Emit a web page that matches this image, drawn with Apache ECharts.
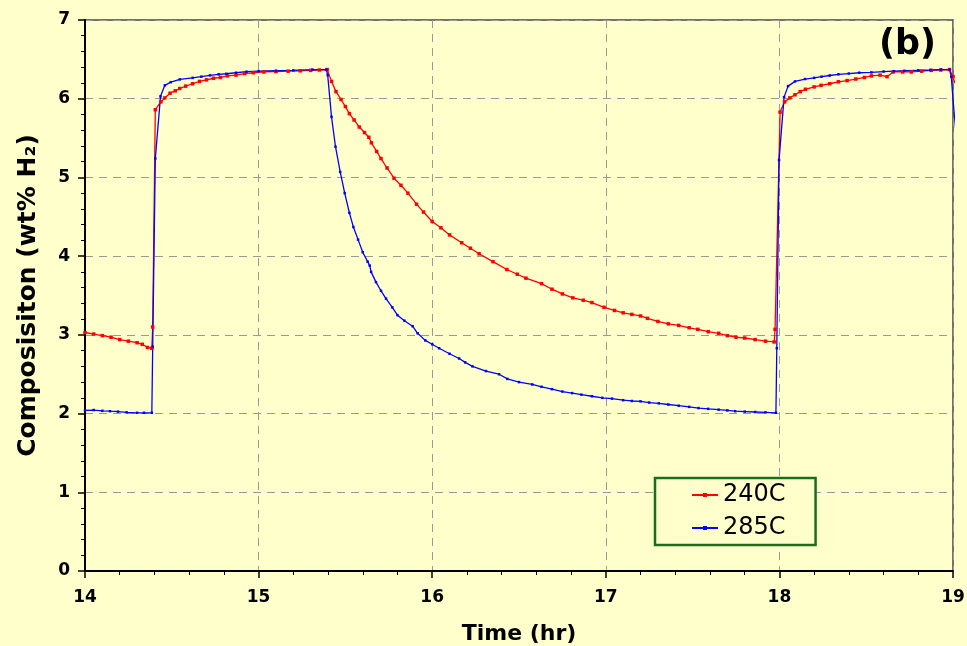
<!DOCTYPE html>
<html>
<head>
<meta charset="utf-8">
<script src="https://cdn.jsdelivr.net/npm/echarts@6/dist/echarts.min.js"></script>
<style>
html,body{margin:0;padding:0;background:#FFFFCC;}
#c{width:967px;height:646px;}
</style>
</head>
<body>
<div id="c"></div>
<script>
// Series 240C: time (hr) and composition (wt% H2)
var t240 = [14.00,14.05,14.10,14.15,14.20,14.25,14.30,14.33,14.36,14.385,14.39,14.405,14.437,14.46,14.49,14.52,14.546,14.58,14.62,14.66,14.70,14.74,14.78,14.82,14.87,14.92,14.97,15.03,15.10,15.17,15.24,15.30,15.35,15.395,
  15.42,15.446,15.475,15.50,15.523,15.55,15.58,15.61,15.635,15.65,15.68,15.705,15.74,15.78,15.82,15.86,15.91,15.95,16.00,16.05,16.10,16.17,16.22,16.27,16.35,16.43,16.49,16.54,16.63,16.69,16.75,16.81,16.87,16.92,16.99,
  17.05,17.10,17.15,17.20,17.24,17.30,17.36,17.42,17.48,17.53,17.59,17.65,17.70,17.75,17.80,17.86,17.92,17.97,17.975,18.004,18.03,18.06,18.09,18.12,18.15,18.20,18.24,18.29,18.34,18.39,18.44,18.49,18.53,18.58,18.62,18.655,18.71,18.76,18.82,18.875,18.93,18.98,19.00,19.01];
var v240 = [3.03,3.01,2.99,2.97,2.94,2.92,2.90,2.88,2.84,2.83,3.10,5.86,5.96,6.01,6.07,6.10,6.13,6.16,6.19,6.22,6.24,6.26,6.27,6.29,6.30,6.32,6.33,6.34,6.345,6.35,6.355,6.36,6.365,6.37,
  6.22,6.09,5.99,5.90,5.81,5.73,5.64,5.57,5.51,5.44,5.33,5.24,5.12,4.99,4.90,4.80,4.66,4.56,4.44,4.36,4.27,4.17,4.10,4.03,3.93,3.83,3.77,3.72,3.65,3.58,3.52,3.47,3.44,3.41,3.35,
  3.31,3.28,3.26,3.24,3.21,3.17,3.14,3.12,3.09,3.07,3.04,3.02,2.99,2.97,2.96,2.94,2.92,2.91,3.07,5.83,5.96,6.01,6.05,6.09,6.12,6.15,6.17,6.19,6.215,6.23,6.25,6.27,6.29,6.30,6.28,6.34,6.34,6.34,6.35,6.36,6.365,6.37,6.28,6.20];

// Series 285C
var t285 = [14.00,14.05,14.10,14.144,14.19,14.24,14.30,14.34,14.385,14.39,14.405,14.435,14.46,14.494,14.546,14.62,14.67,14.72,14.77,14.814,14.87,14.93,15.00,15.10,15.20,15.31,15.39,15.398,
  15.42,15.443,15.47,15.496,15.523,15.546,15.573,15.60,15.628,15.64,15.648,15.676,15.705,15.734,15.77,15.80,15.84,15.887,15.916,15.96,16.00,16.04,16.10,16.155,16.19,16.232,16.31,16.385,16.433,16.50,16.576,16.63,16.69,16.75,16.806,16.86,16.92,16.98,
  17.036,17.10,17.15,17.20,17.25,17.305,17.36,17.42,17.48,17.534,17.59,17.65,17.70,17.745,17.80,17.86,17.92,17.98,17.985,17.998,18.027,18.05,18.09,18.148,18.20,18.243,18.29,18.34,18.40,18.46,18.53,18.60,18.66,18.72,18.80,18.87,18.93,18.98,18.99,19.005,19.02];
var v285 = [2.04,2.045,2.035,2.03,2.025,2.015,2.01,2.01,2.01,2.85,5.24,6.03,6.17,6.21,6.245,6.265,6.28,6.296,6.31,6.317,6.33,6.343,6.35,6.355,6.36,6.37,6.37,6.30,
  5.77,5.39,5.07,4.80,4.55,4.37,4.21,4.05,3.93,3.88,3.80,3.67,3.56,3.46,3.35,3.25,3.18,3.11,3.02,2.93,2.88,2.83,2.76,2.70,2.65,2.60,2.54,2.50,2.44,2.40,2.37,2.34,2.31,2.28,2.26,2.24,2.22,2.20,
  2.19,2.17,2.16,2.155,2.14,2.13,2.115,2.10,2.085,2.07,2.06,2.05,2.04,2.03,2.025,2.02,2.015,2.01,2.83,5.22,6.02,6.16,6.22,6.25,6.265,6.28,6.295,6.31,6.32,6.33,6.335,6.345,6.35,6.355,6.36,6.365,6.37,6.37,6.28,5.86,5.50];

var seriesNames = ['240C','285C'];
var xName = 'Time (hr)';
var yName = 'Composisiton (wt% H\u2082)';
var panelLabel = '(b)';

function pairs(t, v){ return t.map(function(x,i){ return [x, v[i]]; }); }

var chart = echarts.init(document.getElementById('c'), null, {renderer:'canvas'});
var FONT = 'DejaVu Sans';
chart.setOption({
  backgroundColor: '#FFFFCC',
  animation: false,
  textStyle: {fontFamily: FONT},
  grid: {left: 85, right: 14, top: 20, bottom: 75, containLabel: false, outerBoundsMode: 'none',
         show: true, borderColor: '#444', borderWidth: 1.5, backgroundColor: 'transparent'},
  graphic: [{
    type: 'text', left: 879, top: 27,
    style: {text: panelLabel, font: 'bold 35px "DejaVu Sans"', fill: '#000'}
  }],
  legend: {
    orient: 'vertical', left: 655, top: 478,
    padding: [5, 30, 5, 36],
    itemWidth: 26, itemHeight: 5, itemGap: 9,
    borderColor: '#1a6e1a', borderWidth: 2.5, backgroundColor: '#FFFFCC',
    textStyle: {fontSize: 24, color: '#000', fontFamily: FONT},
    data: seriesNames
  },
  xAxis: {
    type: 'value', min: 14, max: 19, interval: 1,
    name: xName, nameLocation: 'middle', nameGap: 52,
    nameTextStyle: {fontSize: 22, fontWeight: 'bold', color: '#000', fontFamily: FONT},
    axisLine: {show: true, onZero: false, lineStyle: {color: '#000', width: 2}},
    axisTick: {show: true, length: 7, lineStyle: {color: '#000', width: 1.5}},
    minorTick: {show: true, splitNumber: 5, length: 4, lineStyle: {color: '#000', width: 1}},
    axisLabel: {fontSize: 17, fontWeight: 'bold', color: '#000', margin: 18, fontFamily: FONT},
    splitLine: {show: true, lineStyle: {color: '#999', type: [8, 6], width: 1}}
  },
  yAxis: {
    type: 'value', min: 0, max: 7, interval: 1,
    name: yName, nameLocation: 'middle', nameGap: 44, nameRotate: 90,
    nameTextStyle: {fontSize: 25, fontWeight: 'bold', color: '#000', fontFamily: FONT},
    axisLine: {show: true, lineStyle: {color: '#000', width: 2}},
    axisTick: {show: true, length: 7, lineStyle: {color: '#000', width: 1.5}},
    minorTick: {show: true, splitNumber: 5, length: 4, lineStyle: {color: '#000', width: 1}},
    axisLabel: {fontSize: 17, fontWeight: 'bold', color: '#000', margin: 15, fontFamily: FONT},
    splitLine: {show: true, lineStyle: {color: '#999', type: [8, 6], width: 1}}
  },
  series: [
    {name: seriesNames[0], type: 'line', data: pairs(t240, v240), clip: true,
     symbol: 'rect', symbolSize: 3.5, showAllSymbol: true,
     lineStyle: {color: '#FF0000', width: 1.3}, itemStyle: {color: '#FF0000'}},
    {name: seriesNames[1], type: 'line', data: pairs(t285, v285), clip: true,
     symbol: 'rect', symbolSize: 2.5, showAllSymbol: true,
     lineStyle: {color: '#0000FF', width: 1.3}, itemStyle: {color: '#0000FF'}}
  ]
});
</script>
</body>
</html>
